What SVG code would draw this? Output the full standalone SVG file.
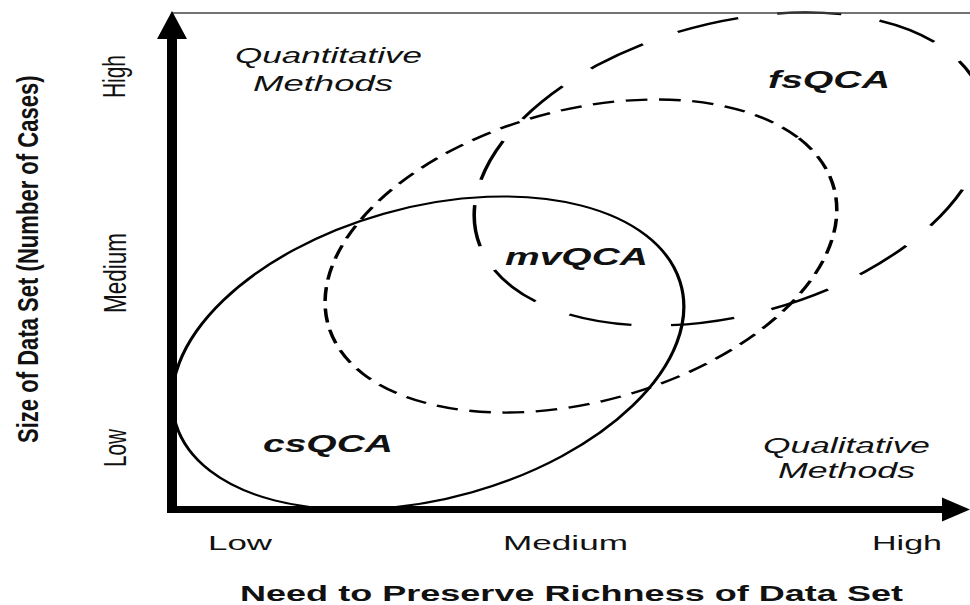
<svg xmlns="http://www.w3.org/2000/svg" width="970" height="605" viewBox="0 0 970 605">
<style>
  .lbl { font-family: "Liberation Sans", Arial, sans-serif; fill: #111; }
  .it { font-style: italic; font-size: 22px; }
  .nm { font-style: italic; font-weight: bold; font-size: 23px; }
  .ax { font-size: 21px; }
  .vt { font-size: 31px; }
  .ttl { font-weight: bold; }
  .ell { fill: none; stroke: #000; }
</style>
<rect width="970" height="605" fill="#fff"/>

<g id="csQCA">
  <g transform="scale(1.55,1)">
    <ellipse class="ell" cx="276.1" cy="353" rx="183.4" ry="134.6" transform="rotate(-39.9 276.1 353)" stroke-width="2.1"/>
  </g>
  <text class="lbl nm" x="263" y="452" textLength="130" lengthAdjust="spacingAndGlyphs">csQCA</text>
</g>

<g id="mvQCA">
  <g transform="scale(1.55,1)">
    <ellipse class="ell" cx="374.8" cy="256" rx="183.4" ry="134.6" transform="rotate(-39.9 374.8 256)" stroke-width="2.3" stroke-dasharray="14 7.5"/>
  </g>
  <text class="lbl nm" x="505" y="265" textLength="143" lengthAdjust="spacingAndGlyphs">mvQCA</text>
</g>

<g id="fsQCA">
  <g transform="scale(1.55,1)">
    <ellipse class="ell" cx="471" cy="169" rx="183.4" ry="134.6" transform="rotate(-39.9 471 169)" stroke-width="2.3" stroke-dasharray="41.5 25.5" stroke-dashoffset="55"/>
  </g>
  <text class="lbl nm" x="768" y="88" textLength="122" lengthAdjust="spacingAndGlyphs">fsQCA</text>
</g>

<g id="connectors">
  <line x1="172" y1="13" x2="970" y2="13" stroke="#444" stroke-width="1.5"/>
  <line x1="172" y1="34" x2="172" y2="513" stroke="#000" stroke-width="10"/>
  <line x1="167" y1="509.5" x2="946" y2="509.5" stroke="#000" stroke-width="7"/>
  <polygon points="172,11 157,39 187,39" fill="#000"/>
  <polygon points="970,509.5 942,497.5 942,521.5" fill="#000"/>
</g>

<g id="region-labels">
  <text class="lbl it" x="235" y="63" textLength="187" lengthAdjust="spacingAndGlyphs">Quantitative</text>
  <text class="lbl it" x="253" y="91" textLength="140" lengthAdjust="spacingAndGlyphs">Methods</text>
  <text class="lbl it" x="763" y="453" textLength="167" lengthAdjust="spacingAndGlyphs">Qualitative</text>
  <text class="lbl it" x="778" y="478" textLength="137" lengthAdjust="spacingAndGlyphs">Methods</text>
</g>

<g id="x-axis-labels">
  <text class="lbl ax" x="208" y="550" textLength="64" lengthAdjust="spacingAndGlyphs">Low</text>
  <text class="lbl ax" x="503" y="550" textLength="125" lengthAdjust="spacingAndGlyphs">Medium</text>
  <text class="lbl ax" x="872" y="550" textLength="70" lengthAdjust="spacingAndGlyphs">High</text>
  <text class="lbl ttl" x="240" y="601" font-size="22" textLength="663" lengthAdjust="spacingAndGlyphs">Need to Preserve Richness of Data Set</text>
</g>

<g id="y-axis-labels">
  <text class="lbl vt" transform="translate(125,98) rotate(-90)" textLength="43" lengthAdjust="spacingAndGlyphs">High</text>
  <text class="lbl vt" transform="translate(126,313) rotate(-90)" textLength="80" lengthAdjust="spacingAndGlyphs">Medium</text>
  <text class="lbl vt" transform="translate(126,467) rotate(-90)" textLength="38" lengthAdjust="spacingAndGlyphs">Low</text>
  <text class="lbl ttl" font-size="29" transform="translate(38,443) rotate(-90) scale(0.761,1)">Size of Data Set (Number of Cases)</text>
</g>
</svg>
